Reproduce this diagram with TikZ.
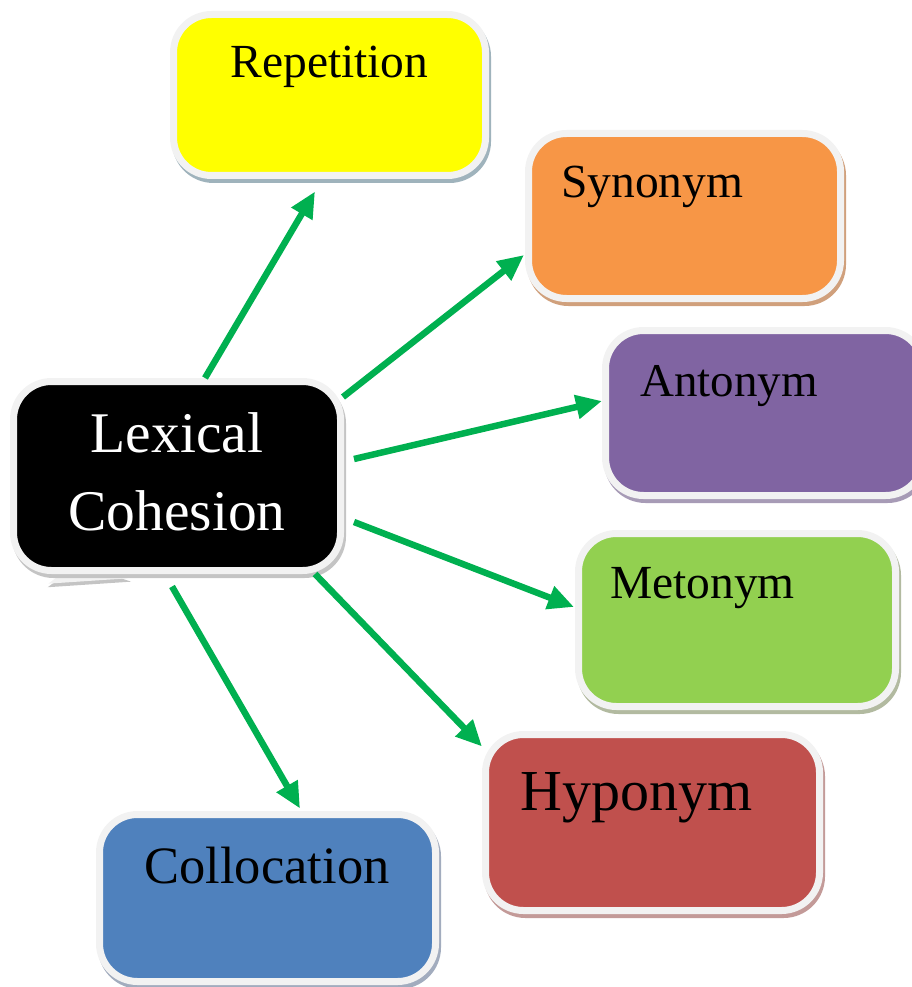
\documentclass[tikz,border=0pt]{standalone}
\usepackage{fontspec}
\setmainfont{Liberation Serif}
\usetikzlibrary{arrows.meta, positioning, calc}

\definecolor{rim}{HTML}{F2F2F2}
\definecolor{linkgreen}{HTML}{00B050}
\definecolor{repfill}{HTML}{FFFF00}
\definecolor{synfill}{HTML}{F79646}
\definecolor{antfill}{HTML}{8064A2}
\definecolor{metfill}{HTML}{92D050}
\definecolor{hypfill}{HTML}{C0504D}
\definecolor{colfill}{HTML}{4F81BD}
\definecolor{repshade}{HTML}{9FB3BC}
\definecolor{synshade}{HTML}{D0A07C}
\definecolor{antshade}{HTML}{A79BB6}
\definecolor{metshade}{HTML}{B2BAA0}
\definecolor{hypshade}{HTML}{C39A98}
\definecolor{colshade}{HTML}{A2ACBE}
\definecolor{lexshade}{HTML}{C4C4C4}

\begin{document}
\begin{tikzpicture}[x=1pt, y=-1pt,
        termbox/.style 2 args={rectangle, rounded corners=38pt, fill=#1, draw=rim, line width=7pt,
            preaction={draw=#2, line width=7pt, transform canvas={shift={(2pt,-4pt)}}}},
        termtext/.style={inner sep=0pt, font=\fontsize{#1}{#1}\selectfont},
        link/.style={draw=linkgreen, line width=6.5pt, -{Triangle[length=26pt, width=23pt]}}]
        \useasboundingbox (0,0) rectangle (912,987);
        \clip (0,0) rectangle (912,987);

        % centre bubble with its little tail
        \draw[fill=rim, draw=rim, line width=1pt,
            preaction={fill=lexshade, draw=lexshade, line width=2pt, transform canvas={shift={(1pt,-3pt)}}}]
            (78,562) -- (50,583) -- (125,578) -- cycle;
        \node[termbox={black}{lexshade}, minimum width=327pt, minimum height=189pt] (lex) at (177,476) {};
        \node[termtext=57.5, text=white, anchor=base] (lex-t1) at (177,452) {Lexical};
        \node[termtext=57.5, text=white, anchor=base] (lex-t2) at (177,530) {Cohesion};

        % the six kinds
        \node[termbox={repfill}{repshade}, minimum width=312pt, minimum height=161pt] (rep) at (329.5,95) {};
        \node[termbox={synfill}{synshade}, minimum width=312pt, minimum height=165pt] (syn) at (684.5,216) {};
        \node[termbox={antfill}{antshade}, minimum width=318pt, minimum height=165pt] (ant) at (764.5,413) {};
        \node[termbox={metfill}{metshade}, minimum width=317pt, minimum height=173pt] (met) at (737,620) {};
        \node[termbox={hypfill}{hypshade}, minimum width=334pt, minimum height=176pt] (hyp) at (652.5,822.5) {};
        \node[termbox={colfill}{colshade}, minimum width=336pt, minimum height=167pt] (col) at (267.5,898) {};

        \node[termtext=47.5, anchor=base] (rep-t) at (329.5,78) {Repetition};
        \node[termtext=47.5, anchor=base west] (syn-t) at (561,197) {Synonym};
        \node[termtext=47, anchor=base west] (ant-t) at (640,396) {Antonym};
        \node[termtext=47.5, anchor=base west] (met-t) at (610,598) {Metonym};
        \node[termtext=58, anchor=base west] (hyp-t) at (520,810) {Hyponym};
        \node[termtext=52.5, anchor=base] (col-t) at (267,883) {Collocation};

        % arrows out of the centre
        \draw[link] ([xshift=28pt]lex.north) -- ([xshift=-14.5pt, yshift=-12.5pt]rep.south);
        \draw[link] ([xshift=-1pt, yshift=-19pt]lex.north east) -- ([xshift=-1pt, yshift=-39pt]syn.west);
        \draw[link] ([xshift=10pt, yshift=17pt]lex.east) -- ([yshift=12pt]ant.west);
        \draw[link] ([xshift=10pt, yshift=-46pt]lex.east) -- ([xshift=-1pt, yshift=13pt]met.west);
        \draw[link] ([xshift=138pt]lex.south) -- ([yshift=-15.5pt]hyp.north west);
        \draw[link] ([xshift=-5pt, yshift=-12.5pt]lex.south) -- ([xshift=32.5pt, yshift=2.5pt]col.north);
    \end{tikzpicture}
\end{document}
